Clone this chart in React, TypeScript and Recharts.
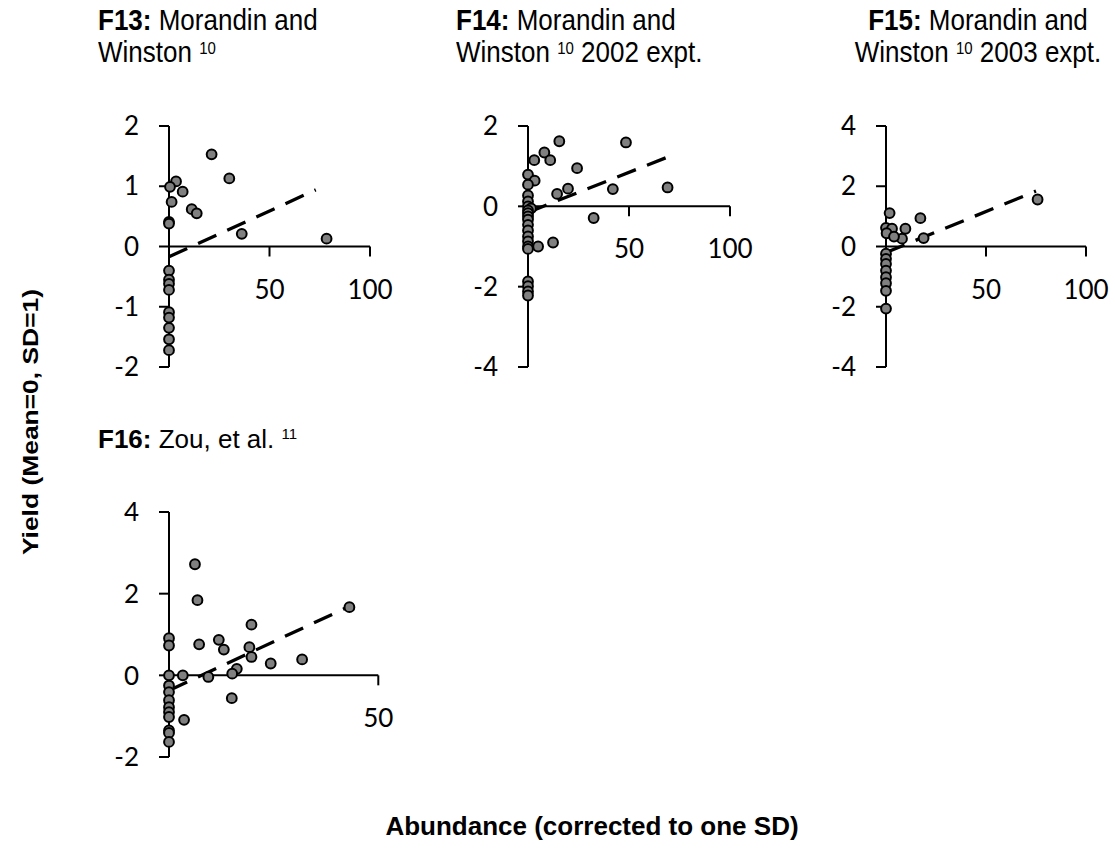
import React from 'react';
import { ScatterChart, Scatter, XAxis, YAxis, ReferenceLine, ReferenceDot } from 'recharts';

// ---------- data ----------
const f13Points = [
  { x: 21.2, y: 1.53 }, { x: 30, y: 1.13 }, { x: 3.5, y: 1.08 }, { x: 0.5, y: 0.99 },
  { x: 6.8, y: 0.91 }, { x: 1.3, y: 0.74 }, { x: 11.3, y: 0.62 }, { x: 13.8, y: 0.55 },
  { x: 0, y: 0.41 }, { x: 0, y: 0.38 }, { x: 36.2, y: 0.21 }, { x: 78.4, y: 0.13 },
  { x: 0, y: -0.4 }, { x: 0, y: -0.55 }, { x: 0, y: -0.62 }, { x: 0, y: -0.72 },
  { x: 0, y: -1.09 }, { x: 0, y: -1.18 }, { x: 0, y: -1.35 }, { x: 0, y: -1.54 },
  { x: 0, y: -1.72 },
];
const f13Trend = [{ x: 0, y: -0.17 }, { x: 73, y: 0.94 }];

const f14Points = [
  { x: 15.5, y: 1.62 }, { x: 48.5, y: 1.59 }, { x: 8.1, y: 1.34 }, { x: 11, y: 1.15 },
  { x: 3.1, y: 1.15 }, { x: 24.3, y: 0.95 }, { x: 0, y: 0.79 }, { x: 3.3, y: 0.64 },
  { x: 0, y: 0.54 }, { x: 19.8, y: 0.44 }, { x: 14.4, y: 0.31 }, { x: 42, y: 0.43 },
  { x: 69.1, y: 0.47 }, { x: 0, y: 0.27 }, { x: 0, y: 0.12 }, { x: 0, y: 0.0 },
  { x: 1.5, y: -0.05 }, { x: 0, y: -0.1 }, { x: 0, y: -0.17 }, { x: 0, y: -0.25 },
  { x: 32.5, y: -0.29 }, { x: 0, y: -0.33 }, { x: 0, y: -0.46 }, { x: 0, y: -0.6 },
  { x: 0, y: -0.75 }, { x: 0, y: -0.87 }, { x: 0, y: -1.0 }, { x: 5, y: -1.0 },
  { x: 12.4, y: -0.9 }, { x: 0, y: -1.06 }, { x: 0, y: -1.87 }, { x: 0, y: -1.99 },
  { x: 0, y: -2.12 }, { x: 0, y: -2.22 },
];
const f14Trend = [{ x: 0, y: -0.15 }, { x: 69.8, y: 1.24 }];

const f15Points = [
  { x: 75.8, y: 1.56 }, { x: 1.8, y: 1.11 }, { x: 17.2, y: 0.94 }, { x: 0, y: 0.62 },
  { x: 3, y: 0.59 }, { x: 9.7, y: 0.59 }, { x: 0.3, y: 0.44 }, { x: 8, y: 0.26 },
  { x: 18.8, y: 0.28 }, { x: 4, y: 0.33 }, { x: 0, y: -0.24 }, { x: 0, y: -0.41 },
  { x: 0, y: -0.58 }, { x: 0, y: -0.8 }, { x: 0, y: -1.02 }, { x: 0, y: -1.22 },
  { x: 0, y: -1.47 }, { x: 0, y: -2.06 },
];
const f15Trend = [{ x: 0, y: -0.2 }, { x: 75, y: 1.84 }];

const f16Points = [
  { x: 6.2, y: 2.72 }, { x: 6.8, y: 1.84 }, { x: 19.7, y: 1.24 }, { x: 0, y: 0.91 },
  { x: 0, y: 0.73 }, { x: 7.2, y: 0.76 }, { x: 11.9, y: 0.87 }, { x: 13.1, y: 0.63 },
  { x: 19.2, y: 0.69 }, { x: 19.7, y: 0.45 }, { x: 24.3, y: 0.29 }, { x: 31.8, y: 0.39 },
  { x: 43.1, y: 1.67 }, { x: 16.2, y: 0.16 }, { x: 15.1, y: 0.04 }, { x: 9.4, y: -0.04 },
  { x: 3.3, y: 0.0 }, { x: 0, y: 0.0 }, { x: 15, y: -0.56 }, { x: 3.6, y: -1.09 },
  { x: 0, y: -0.25 }, { x: 0, y: -0.41 }, { x: 0, y: -0.61 }, { x: 0, y: -0.78 },
  { x: 0, y: -0.9 }, { x: 0, y: -1.02 }, { x: 0, y: -1.35 }, { x: 0, y: -1.41 },
  { x: 0, y: -1.63 },
];
const f16Trend = [{ x: 0, y: -0.37 }, { x: 43.1, y: 1.69 }];

const f13YTicks = [-2, -1, 0, 1, 2];
const f14YTicks = [-4, -2, 0, 2];
const f15YTicks = [-4, -2, 0, 2, 4];
const f16YTicks = [-2, 0, 2, 4];
const xTicks100 = [50, 100];
const xTicks50 = [50];

const TICK_FONT = 'Lato, "Open Sans", sans-serif';
const TEXT_FONT = '"Liberation Sans", Arial, sans-serif';
const TICK_SIZE = 26;

const Dot = (p: any) => (
  <circle cx={p.cx} cy={p.cy} r={4.9} fill="#808080" stroke="#000" strokeWidth={2} />
);

type PanelProps = {
  left: number; top: number; plotW: number; plotH: number;
  xMax: number; yMin: number; yMax: number; yTicks: number[]; xTicks: number[];
  points: { x: number; y: number }[]; trend: { x: number; y: number }[];
};

const YW = 70;
const MT = 24;
const MR = 40;
const MB = 24;

function Panel(props: PanelProps) {
  const { left, top, plotW, plotH, xMax, yMin, yMax, yTicks, xTicks, points, trend } = props;
  const width = YW + plotW + MR;
  const height = MT + plotH + MB;
  return (
    <div style={{ position: 'absolute', left: left - YW, top: top - MT }}>
      <ScatterChart width={width} height={height} margin={{ top: MT, right: MR, bottom: MB, left: 0 }} style={{ overflow: 'visible' }}>
        <XAxis type="number" dataKey="x" domain={[0, xMax]} hide />
        <YAxis
          type="number"
          dataKey="y"
          domain={[yMin, yMax]}
          ticks={yTicks}
          interval={0}
          width={YW}
          axisLine={{ stroke: '#000', strokeWidth: 2 }}
          tickLine={{ stroke: '#000', strokeWidth: 2 }}
          tickSize={10}
          tickMargin={20}
          tick={{ fill: '#000', fontSize: TICK_SIZE, fontFamily: TICK_FONT }}
        />
        <ReferenceLine y={0} stroke="#000" strokeWidth={2} ifOverflow="visible" />
        {xTicks.map((t) => (
          <ReferenceDot
            key={t}
            x={t}
            y={0}
            r={0}
            ifOverflow="visible"
            shape={(p: any) => (
              <g>
                <line x1={p.cx} y1={p.cy} x2={p.cx} y2={p.cy + 10} stroke="#000" strokeWidth={2} />
                <text x={p.cx} y={p.cy + 42} textAnchor="middle" dominantBaseline="central" fontSize={TICK_SIZE} fontFamily={TICK_FONT} fill="#000">
                  {t}
                </text>
              </g>
            )}
          />
        ))}
        <Scatter data={points} shape={Dot} isAnimationActive={false} />
        <ReferenceLine
          segment={trend}
          stroke="#000"
          strokeWidth={3.3}
          strokeDasharray="20 12"
          ifOverflow="visible"
        />
      </ScatterChart>
    </div>
  );
}

const titleStyle: React.CSSProperties = {
  position: 'absolute',
  fontFamily: TEXT_FONT,
  fontSize: 26,
  lineHeight: '28px',
  color: '#000',
  whiteSpace: 'nowrap',
  transform: 'scaleY(1.16)',
  transformOrigin: '0 0',
};
const supStyle: React.CSSProperties = { fontSize: 15, verticalAlign: '7px', lineHeight: 1 };

export default function App() {
  return (
    <div style={{ position: 'absolute', left: 0, top: 0, width: 1115, height: 848, overflow: 'hidden', background: '#fff' }}>
      <div style={{ ...titleStyle, left: 98, top: 3.3 }}>
        <b>F13:</b> Morandin and<br />Winston <span style={supStyle}>10</span>
      </div>
      <div style={{ ...titleStyle, left: 456, top: 3.3 }}>
        <b>F14:</b> Morandin and<br />Winston <span style={supStyle}>10</span> 2002 expt.
      </div>
      <div style={{ ...titleStyle, left: 828, top: 3.3, width: 300, textAlign: 'center' }}>
        <b>F15:</b> Morandin and<br />Winston <span style={supStyle}>10</span> 2003 expt.
      </div>
      <div style={{ ...titleStyle, transform: 'none', lineHeight: '32.5px', left: 98, top: 423 }}>
        <b>F16:</b> Zou, et al. <span style={{ ...supStyle, verticalAlign: '9px' }}>11</span>
      </div>

      <Panel left={169} top={125.7} plotW={201} plotH={241} xMax={100} yMin={-2} yMax={2} yTicks={f13YTicks} xTicks={xTicks100} points={f13Points} trend={f13Trend} />
      <Panel left={527.7} top={125.7} plotW={202} plotH={241} xMax={100} yMin={-4} yMax={2} yTicks={f14YTicks} xTicks={xTicks100} points={f14Points} trend={f14Trend} />
      <Panel left={885.7} top={125.7} plotW={200} plotH={241} xMax={100} yMin={-4} yMax={4} yTicks={f15YTicks} xTicks={xTicks100} points={f15Points} trend={f15Trend} />
      <Panel left={169} top={511.7} plotW={209.3} plotH={245} xMax={50} yMin={-2} yMax={4} yTicks={f16YTicks} xTicks={xTicks50} points={f16Points} trend={f16Trend} />

      <div
        style={{
          position: 'absolute',
          left: 31,
          top: 422,
          transform: 'translate(-50%, -50%) rotate(-90deg) scaleX(1.2)',
          fontFamily: TEXT_FONT,
          fontWeight: 'bold',
          fontSize: 22,
          whiteSpace: 'nowrap',
          color: '#000',
        }}
      >
        Yield (Mean=0, SD=1)
      </div>
      <div
        style={{
          position: 'absolute',
          left: 592,
          top: 811,
          transform: 'translateX(-50%)',
          fontFamily: TEXT_FONT,
          fontWeight: 'bold',
          fontSize: 26,
          whiteSpace: 'nowrap',
          color: '#000',
        }}
      >
        Abundance (corrected to one SD)
      </div>
    </div>
  );
}
